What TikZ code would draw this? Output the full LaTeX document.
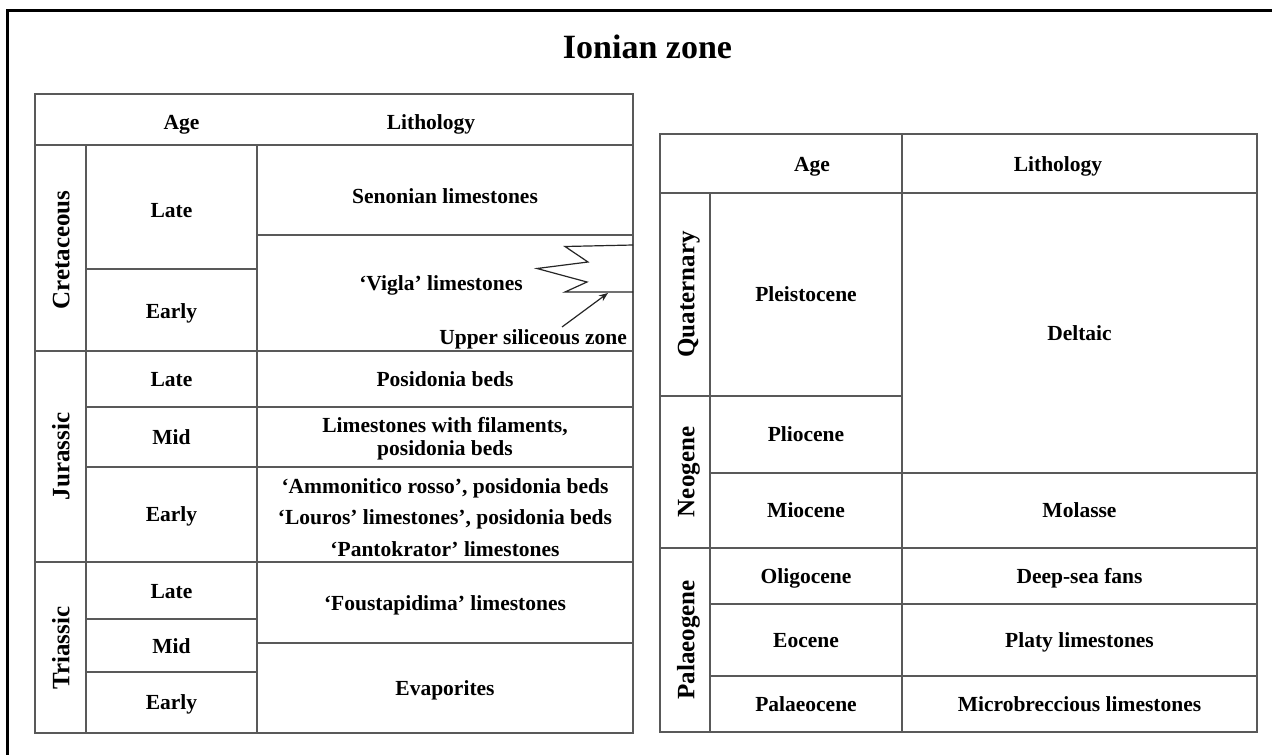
\documentclass[tikz,border=0pt]{standalone}
\usepackage{fontspec}
\setmainfont{Liberation Serif}
\usetikzlibrary{arrows.meta}
\begin{document}
\begin{tikzpicture}[x=1pt,y=-1pt,
  grid/.style={draw=black!65, line width=1.6pt},
  frame/.style={draw=black, line width=3pt},
  thin/.style={draw=black!85, line width=1.2pt},
  txt/.style={font=\fontsize{21.5}{23.5}\selectfont\bfseries, align=center, inner sep=0pt, text height=14.2pt, text depth=0pt},
  per/.style={font=\fontsize{25}{28}\selectfont\bfseries, rotate=90, inner sep=0pt, text height=16.5pt, text depth=0pt},
  ttl/.style={font=\fontsize{34}{38}\selectfont\bfseries, inner sep=0pt, text height=22.5pt, text depth=0pt}]
\useasboundingbox (0,0) rectangle (1272,755);
\fill[white] (0,0) rectangle (1272,755);
% outer frame (top and left edges visible)
\draw[frame] (7,756) -- (7,10) -- (1273,10);
\node[ttl] (title) at (647.5,47.5) {Ionian zone};

% ---------- left table ----------
\draw[grid] (35,94) rectangle (633,733);
\draw[grid] (35,145) -- (633,145);
\draw[grid] (86,145) -- (86,733);
\draw[grid] (257,145) -- (257,733);
\draw[grid] (35,351) -- (633,351);
\draw[grid] (35,562) -- (633,562);
\draw[grid] (86,269) -- (257,269);
\draw[grid] (257,235) -- (633,235);
\draw[grid] (86,407) -- (633,407);
\draw[grid] (86,467) -- (633,467);
\draw[grid] (86,619) -- (257,619);
\draw[grid] (86,672) -- (257,672);
\draw[grid] (257,643) -- (633,643);

\node[txt] (lage) at (181.5,122) {Age};
\node[txt] (llith) at (431,122) {Lithology};

\node[per] (cret) at (61,250) {Cretaceous};
\node[per] (jur) at (61,456.5) {Jurassic};
\node[per] (tri) at (61,648) {Triassic};

\node[txt] (clate) at (171.5,210) {Late};
\node[txt] (cearly) at (171.5,311) {Early};
\node[txt] (jlate) at (171.5,379) {Late};
\node[txt] (jmid) at (171.5,437) {Mid};
\node[txt] (jearly) at (171.5,514.5) {Early};
\node[txt] (tlate) at (171.5,591) {Late};
\node[txt] (tmid) at (171.5,646) {Mid};
\node[txt] (tearly) at (171.5,702.5) {Early};

\node[txt] (senon) at (445,196) {Senonian limestones};
\node[txt] (vigla) at (441,283) {‘Vigla’ limestones};
\node[txt, anchor=east] (usz) at (627,337.5) {Upper siliceous zone};
\node[txt] (posi) at (445,379) {Posidonia beds};
\node[txt] (limfila) at (445,425) {Limestones with filaments,};
\node[txt] (limfilb) at (445,448) {posidonia beds};
\node[txt] (ammo) at (445,486) {‘Ammonitico rosso’, posidonia beds};
\node[txt] (louros) at (445,517) {‘Louros’ limestones’, posidonia beds};
\node[txt] (panto) at (445,549) {‘Pantokrator’ limestones};
\node[txt] (fous) at (445,603) {‘Foustapidima’ limestones};
\node[txt] (evap) at (445,688) {Evaporites};

% zigzag and arrow
\draw[thin, line join=miter] (633,245) -- (565,246.5) -- (588,262) -- (537,268.5) -- (587,282) -- (565,292) -- (633,292);
\coordinate (atail) at (562,327);
\coordinate (ahead) at (608,293);
\draw[thin, -{Stealth[length=9pt,width=7pt]}] (atail) -- (ahead);

% ---------- right table ----------
\draw[grid] (660,134) rectangle (1257,732);
\draw[grid] (660,193) -- (1257,193);
\draw[grid] (710,193) -- (710,732);
\draw[grid] (902,134) -- (902,732);
\draw[grid] (660,396) -- (902,396);
\draw[grid] (710,473) -- (1257,473);
\draw[grid] (660,548) -- (1257,548);
\draw[grid] (710,604) -- (1257,604);
\draw[grid] (710,676) -- (1257,676);

\node[txt] (rage) at (812,164) {Age};
\node[txt] (rlith) at (1058,164) {Lithology};

\node[per] (quat) at (686,294.5) {Quaternary};
\node[per] (neo) at (686,472) {Neogene};
\node[per] (pal) at (686,640) {Palaeogene};

\node[txt] (pleis) at (806,294.5) {Pleistocene};
\node[txt] (plio) at (806,434.5) {Pliocene};
\node[txt] (mio) at (806,510.5) {Miocene};
\node[txt] (oligo) at (806,576) {Oligocene};
\node[txt] (eoc) at (806,640) {Eocene};
\node[txt] (paleo) at (806,704) {Palaeocene};

\node[txt] (delt) at (1079.5,333) {Deltaic};
\node[txt] (mol) at (1079.5,510.5) {Molasse};
\node[txt] (deep) at (1079.5,576) {Deep-sea fans};
\node[txt] (platy) at (1079.5,640) {Platy limestones};
\node[txt] (micro) at (1079.5,704) {Microbreccious limestones};
\end{tikzpicture}
\end{document}
